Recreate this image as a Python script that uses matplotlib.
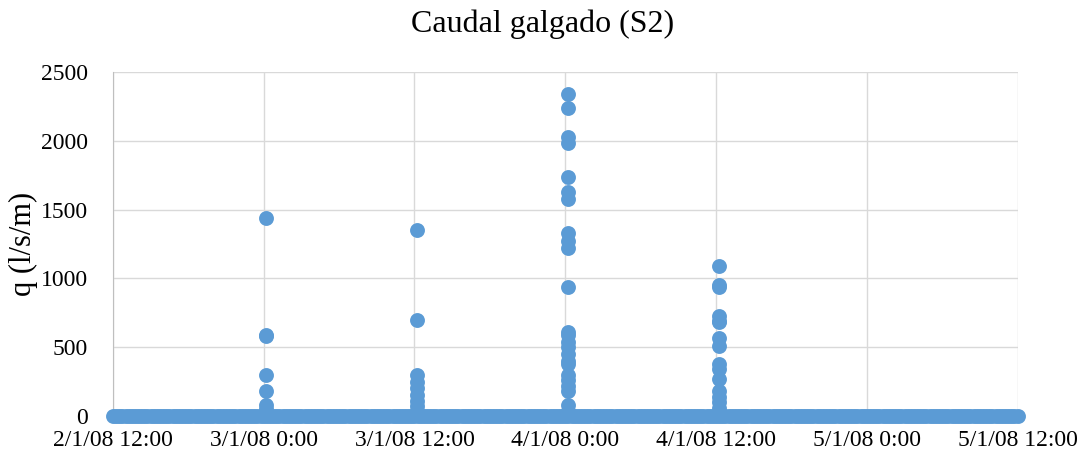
import matplotlib
matplotlib.use("Agg")
import matplotlib.pyplot as plt
import pandas as pd
from datetime import datetime

plt.rcParams['font.family'] = ['Liberation Serif', 'DejaVu Serif']

# Base series: zero discharge over the whole period (15-minute records)
base_start = datetime(2008, 1, 2, 12, 0)
base_end = datetime(2008, 1, 5, 12, 0)
base_times = pd.date_range(base_start, base_end, freq="15min")
base_values = [0.0] * len(base_times)

# Overtopping events (time, discharge l/s/m)
ev1_time = datetime(2008, 1, 3, 0, 10)
ev1_values = [1440, 590, 580, 300, 180, 80, 50, 20]
ev2_time = datetime(2008, 1, 3, 12, 10)
ev2_values = [1350, 700, 300, 250, 200, 150, 110, 70, 40]
ev3_time = datetime(2008, 1, 4, 0, 15)
ev3_values = [2340, 2240, 2030, 1980, 1740, 1630, 1580, 1330, 1270, 1220, 940,
              610, 590, 540, 500, 450, 400, 380, 300, 260, 220, 180, 80, 40]
ev4_time = datetime(2008, 1, 4, 12, 15)
ev4_values = [1090, 950, 940, 730, 690, 680, 570, 510, 380, 340, 270, 180, 140,
              100, 60, 20]

x_ticks = pd.date_range(base_start, base_end, freq="12h")
y_ticks = [0, 500, 1000, 1500, 2000, 2500]

color = "#5B9BD5"

fig = plt.figure(figsize=(10.86, 4.61), dpi=100)
ax = fig.add_axes([0.104, 0.0976, 0.833, 0.7464])

ax.scatter(base_times, base_values, s=115, color=color, clip_on=False, zorder=3, linewidths=0)
for t, vals in [(ev1_time, ev1_values), (ev2_time, ev2_values),
                (ev3_time, ev3_values), (ev4_time, ev4_values)]:
    ax.scatter([t] * len(vals), vals, s=115, color=color, clip_on=False, zorder=3, linewidths=0)

ax.set_xlim(base_start, base_end)
ax.set_ylim(0, 2500)
ax.set_xticks(x_ticks)
ax.set_xticklabels([f"{d.day}/{d.month}/{d.strftime('%y')} {d.hour}:{d.strftime('%M')}" for d in x_ticks])
ax.set_yticks(y_ticks)

ax.grid(True, color="#d9d9d9", linewidth=1)
ax.set_axisbelow(True)
for s in ["top", "right", "bottom"]:
    ax.spines[s].set_visible(False)
ax.spines["left"].set_color("#bfbfbf")
ax.tick_params(axis="both", length=0, labelsize=17, colors="black")
ax.tick_params(axis="x", pad=10)
ax.tick_params(axis="y", pad=18)

ax.set_ylabel("q (l/s/m)", fontsize=22, labelpad=2)
fig.suptitle("Caudal galgado (S2)", fontsize=23, y=0.98)

fig.savefig("out.png", dpi=100)
